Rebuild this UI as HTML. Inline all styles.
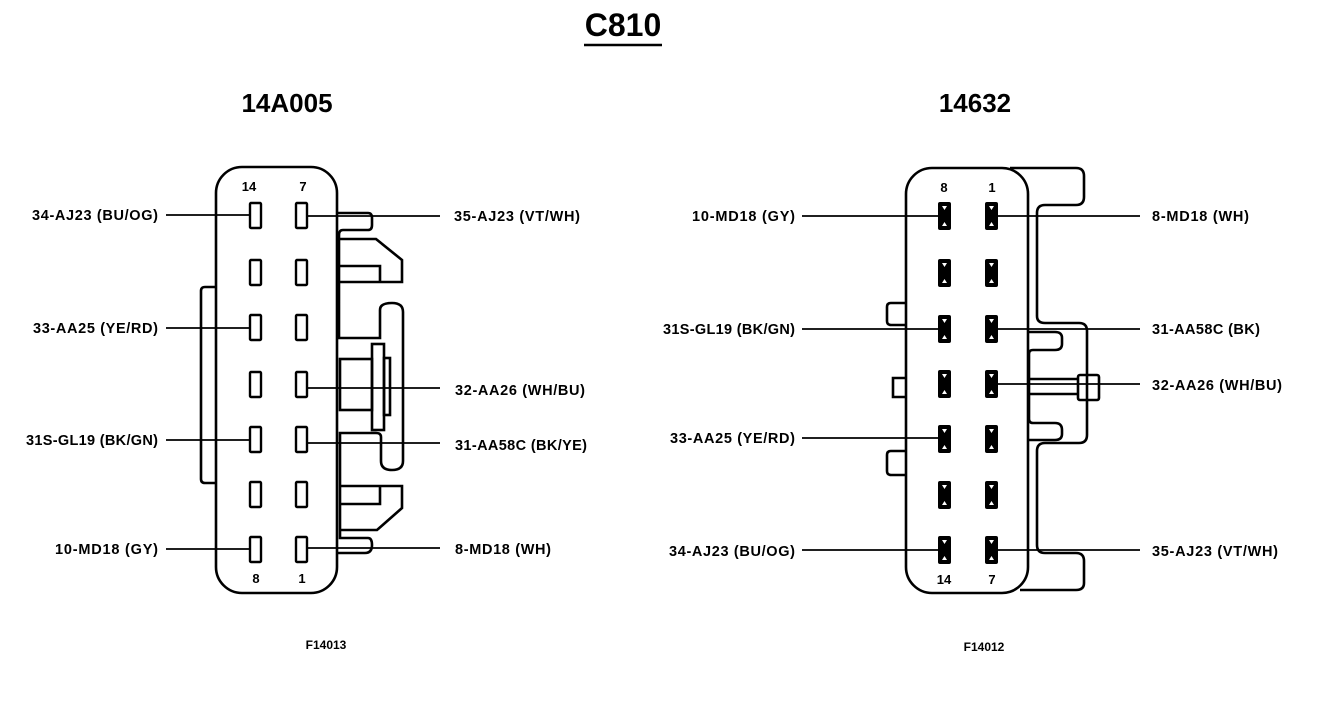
<!DOCTYPE html>
<html><head><style>
html,body{margin:0;padding:0;background:#fff;}
svg{display:block}
text{font-family:"Liberation Sans",Arial,sans-serif;font-weight:bold;fill:#000}
.l{font-size:14.5px}
</style></head><body>
<svg width="1328" height="708" viewBox="0 0 1328 708" xmlns="http://www.w3.org/2000/svg">
<g fill="none" stroke="#000" stroke-width="2.6">
<line x1="584" y1="45" x2="662" y2="45" stroke-width="2.4"/>
<rect x="216" y="167" width="121" height="426" rx="26"/>
<path d="M216,287 H205 Q201,287 201,291 V479 Q201,483 205,483 H216"/>
<path d="M337,213 H368 Q372,213 372,218 V225 Q372,230 368,230 H343 Q339,230 339,235 V338 H380 V310 Q380,303 392,303 Q403,303 403,312 V461 Q403,470 392,470 Q381,470 381,461 V437 Q381,433 376,433 H340 V538 H368 Q372,538 372,545 Q372,553 365,553 H337"/>
<path d="M340,239 H376 L402,260 V282 H340"/>
<path d="M340,266 H380 V282"/>
<path d="M340,486 H402 V508 L377,530 H340"/>
<path d="M380,486 V504 H340"/>
<rect x="340" y="359" width="32" height="51"/>
<rect x="372" y="344" width="12" height="86"/>
<rect x="384" y="358" width="6" height="57"/>
<g stroke-width="2.4">
<rect x="250" y="203" width="11" height="25" rx="1"/><rect x="296" y="203" width="11" height="25" rx="1"/>
<rect x="250" y="260" width="11" height="25" rx="1"/><rect x="296" y="260" width="11" height="25" rx="1"/>
<rect x="250" y="315" width="11" height="25" rx="1"/><rect x="296" y="315" width="11" height="25" rx="1"/>
<rect x="250" y="372" width="11" height="25" rx="1"/><rect x="296" y="372" width="11" height="25" rx="1"/>
<rect x="250" y="427" width="11" height="25" rx="1"/><rect x="296" y="427" width="11" height="25" rx="1"/>
<rect x="250" y="482" width="11" height="25" rx="1"/><rect x="296" y="482" width="11" height="25" rx="1"/>
<rect x="250" y="537" width="11" height="25" rx="1"/><rect x="296" y="537" width="11" height="25" rx="1"/>
</g>
<g stroke-width="1.8">
<line x1="166" y1="215" x2="250" y2="215"/>
<line x1="166" y1="328" x2="250" y2="328"/>
<line x1="166" y1="440" x2="250" y2="440"/>
<line x1="166" y1="549" x2="250" y2="549"/>
<line x1="307" y1="216" x2="440" y2="216"/>
<line x1="307" y1="388" x2="440" y2="388"/>
<line x1="307" y1="443" x2="440" y2="443"/>
<line x1="307" y1="548" x2="440" y2="548"/>
</g>
<rect x="906" y="168" width="122" height="425" rx="26"/>
<path d="M1010,168 H1076 Q1084,168 1084,176 V197 Q1084,205 1076,205 H1045 Q1037,205 1037,213 V316 Q1037,323 1045,323 H1079 Q1087,323 1087,331 V435 Q1087,443 1079,443 H1045 Q1037,443 1037,451 V545 Q1037,553 1045,553 H1076 Q1084,553 1084,561 V583 Q1084,590 1076,590 H1020"/>
<path d="M1028,332 H1055 Q1062,332 1062,338 V344 Q1062,350 1055,350 H1033 Q1029,350 1029,354 V419 Q1029,423 1033,423 H1055 Q1062,423 1062,430 V434 Q1062,440 1055,440 H1028"/>
<rect x="1078" y="375" width="21" height="25" rx="2"/>
<line x1="1028" y1="379" x2="1078" y2="379"/>
<line x1="1028" y1="394" x2="1078" y2="394"/>
<path d="M906,303 H891 Q887,303 887,307 V321 Q887,325 891,325 H906"/>
<path d="M906,378 H893 V397 H906"/>
<path d="M906,451 H891 Q887,451 887,455 V471 Q887,475 891,475 H906"/>
<g stroke-width="1.8">
<line x1="802" y1="216" x2="939" y2="216"/>
<line x1="802" y1="329" x2="939" y2="329"/>
<line x1="802" y1="438" x2="939" y2="438"/>
<line x1="802" y1="550" x2="939" y2="550"/>
<line x1="998" y1="216" x2="1140" y2="216"/>
<line x1="998" y1="329" x2="1140" y2="329"/>
<line x1="998" y1="384" x2="1140" y2="384"/>
<line x1="998" y1="550" x2="1140" y2="550"/>
</g>
</g>
<g fill="#000">
<rect x="938" y="202" width="13" height="28" rx="2"/><rect x="985" y="202" width="13" height="28" rx="2"/>
<rect x="938" y="259" width="13" height="28" rx="2"/><rect x="985" y="259" width="13" height="28" rx="2"/>
<rect x="938" y="315" width="13" height="28" rx="2"/><rect x="985" y="315" width="13" height="28" rx="2"/>
<rect x="938" y="370" width="13" height="28" rx="2"/><rect x="985" y="370" width="13" height="28" rx="2"/>
<rect x="938" y="425" width="13" height="28" rx="2"/><rect x="985" y="425" width="13" height="28" rx="2"/>
<rect x="938" y="481" width="13" height="28" rx="2"/><rect x="985" y="481" width="13" height="28" rx="2"/>
<rect x="938" y="536" width="13" height="28" rx="2"/><rect x="985" y="536" width="13" height="28" rx="2"/>
</g>
<g fill="#fff">
<path d="M942,206h5l-2.5,4zM942,226h5l-2.5,-4zM989,206h5l-2.5,4zM989,226h5l-2.5,-4z"/>
<path d="M942,263h5l-2.5,4zM942,283h5l-2.5,-4zM989,263h5l-2.5,4zM989,283h5l-2.5,-4z"/>
<path d="M942,319h5l-2.5,4zM942,339h5l-2.5,-4zM989,319h5l-2.5,4zM989,339h5l-2.5,-4z"/>
<path d="M942,374h5l-2.5,4zM942,394h5l-2.5,-4zM989,374h5l-2.5,4zM989,394h5l-2.5,-4z"/>
<path d="M942,429h5l-2.5,4zM942,449h5l-2.5,-4zM989,429h5l-2.5,4zM989,449h5l-2.5,-4z"/>
<path d="M942,485h5l-2.5,4zM942,505h5l-2.5,-4zM989,485h5l-2.5,4zM989,505h5l-2.5,-4z"/>
<path d="M942,540h5l-2.5,4zM942,560h5l-2.5,-4zM989,540h5l-2.5,4zM989,560h5l-2.5,-4z"/>
</g>
<text x="623" y="36" font-size="32" text-anchor="middle">C810</text>
<text x="287" y="112" font-size="26" text-anchor="middle">14A005</text>
<text x="975" y="112" font-size="26" text-anchor="middle">14632</text>
<g font-size="13">
<text x="249" y="191" text-anchor="middle">14</text><text x="303" y="191" text-anchor="middle">7</text>
<text x="256" y="583" text-anchor="middle">8</text><text x="302" y="583" text-anchor="middle">1</text>
<text x="944" y="192" text-anchor="middle">8</text><text x="992" y="192" text-anchor="middle">1</text>
<text x="944" y="584" text-anchor="middle">14</text><text x="992" y="584" text-anchor="middle">7</text>
</g>
<g class="l">
<text x="158" y="220" text-anchor="end" textLength="126">34-AJ23 (BU/OG)</text>
<text x="158" y="333" text-anchor="end" textLength="125">33-AA25 (YE/RD)</text>
<text x="158" y="445" text-anchor="end" textLength="132">31S-GL19 (BK/GN)</text>
<text x="158" y="554" text-anchor="end" textLength="103">10-MD18 (GY)</text>
<text x="454" y="221" textLength="126">35-AJ23 (VT/WH)</text>
<text x="455" y="395" textLength="130">32-AA26 (WH/BU)</text>
<text x="455" y="450" textLength="132">31-AA58C (BK/YE)</text>
<text x="455" y="554" textLength="96">8-MD18 (WH)</text>
<text x="795" y="221" text-anchor="end" textLength="103">10-MD18 (GY)</text>
<text x="795" y="334" text-anchor="end" textLength="132">31S-GL19 (BK/GN)</text>
<text x="795" y="443" text-anchor="end" textLength="125">33-AA25 (YE/RD)</text>
<text x="795" y="556" text-anchor="end" textLength="126">34-AJ23 (BU/OG)</text>
<text x="1152" y="221" textLength="97">8-MD18 (WH)</text>
<text x="1152" y="334" textLength="108">31-AA58C (BK)</text>
<text x="1152" y="390" textLength="130">32-AA26 (WH/BU)</text>
<text x="1152" y="556" textLength="126">35-AJ23 (VT/WH)</text>
</g>
<text x="326" y="649" font-size="12" text-anchor="middle">F14013</text>
<text x="984" y="651" font-size="12" text-anchor="middle">F14012</text>
</svg>
</body></html>
